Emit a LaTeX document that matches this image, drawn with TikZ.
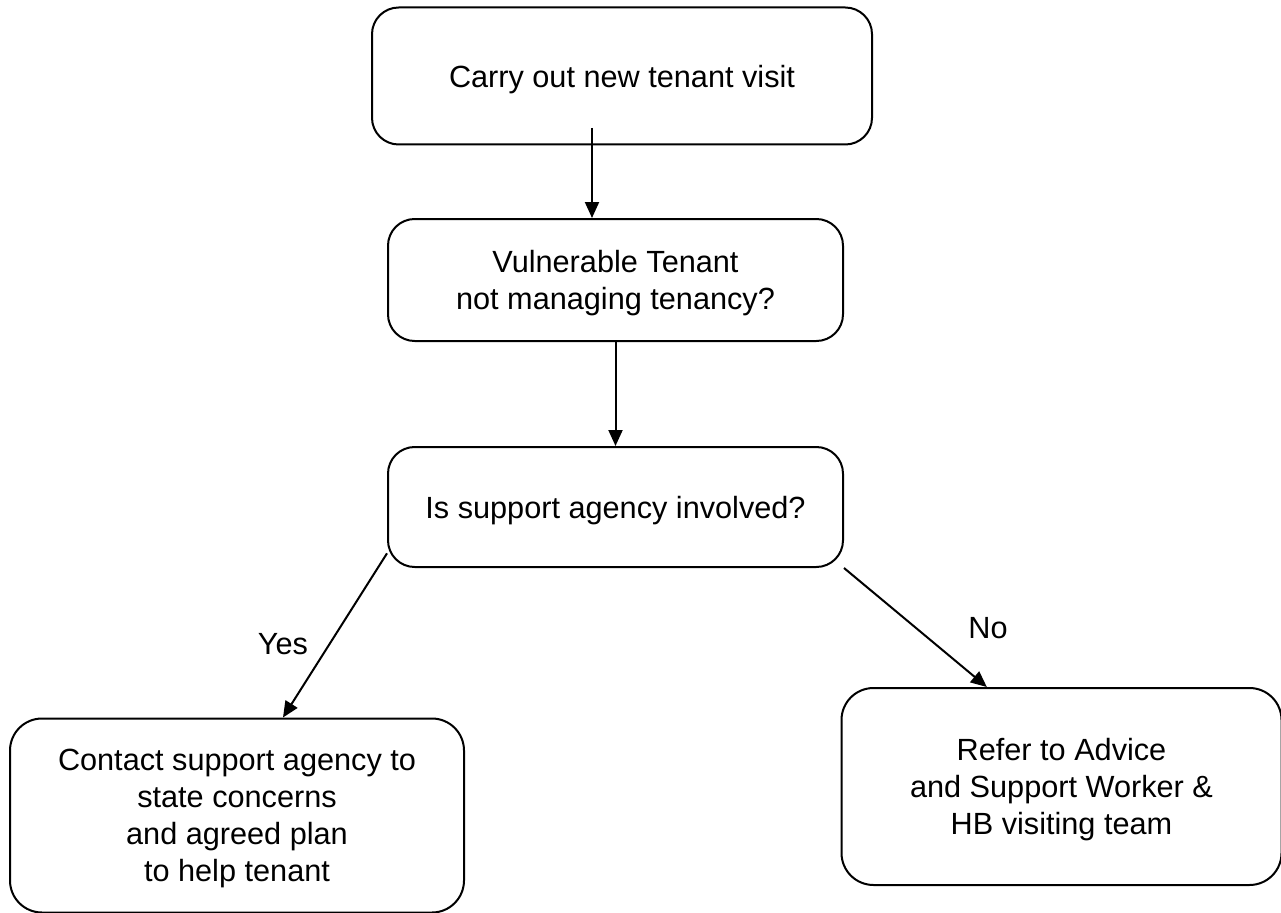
\documentclass[tikz,border=0pt]{standalone}
\usepackage{fontspec}
\setmainfont{Liberation Sans}
\usetikzlibrary{arrows.meta}

\tikzset{
  flowbox/.style={draw, line width=1.5pt, rounded corners=20pt, align=center, text depth=-2.5pt},
  flowarrow/.style={line width=1.5pt, -{Triangle[length=12pt,width=10.5pt]}}
}

\begin{document}
\begin{tikzpicture}[x=0.75pt, y=-0.75pt, font=\fontsize{23pt}{27.75pt}\selectfont]
      \useasboundingbox (0,0) rectangle (1281,913);

      % Boxes
      \node[flowbox, minimum width=375pt, minimum height=102.75pt] (visit) at (622,76)
        {Carry out new tenant visit};
      \node[flowbox, minimum width=341.25pt, minimum height=91.5pt] (vulnerable) at (615.5,280)
        {Vulnerable Tenant\\not managing tenancy?};
      \node[flowbox, minimum width=341.25pt, minimum height=90pt] (agency) at (615.5,507)
        {Is support agency involved?};
    %
      \node[flowbox, rounded corners=24pt, minimum width=340.5pt, minimum height=145.5pt] (contact) at (237,815.5)
        {Contact support agency to\\state concerns\\and agreed plan\\to help tenant};
      \node[flowbox, rounded corners=24pt, minimum width=330pt, minimum height=147.75pt] (refer) at (1061.5,786.5)
        {Refer to Advice\\and Support Worker \&\\HB visiting team};

      %% Lines
      \coordinate (visitout) at (592,128);
      \draw[flowarrow] (visitout) -- (visitout |- vulnerable.north);
      \draw[flowarrow] (vulnerable.south) -- (agency.north);
      \draw[flowarrow] ([yshift=11pt]agency.south west) -- ([xshift=34.5pt]contact.north);
      \draw[flowarrow] (agency.south east) -- ([xshift=-56pt]refer.north);

      % Labels
      \node (yes) at (283,644) {Yes};
      \node (no) at (988,628) {No};
    \end{tikzpicture}
\end{document}
